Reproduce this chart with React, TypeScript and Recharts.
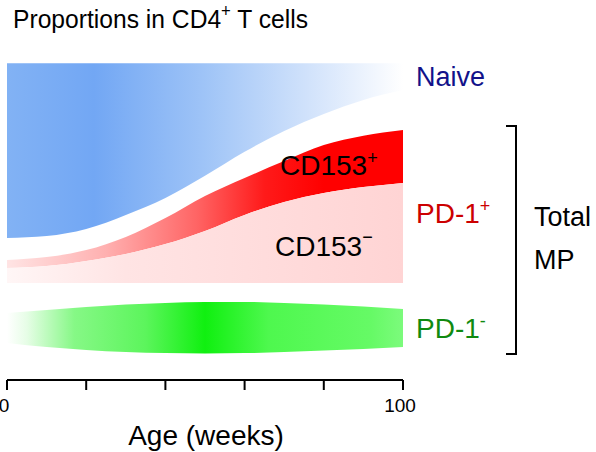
import { ComposedChart, Area, XAxis, YAxis } from 'recharts'

// x positions (weeks)
const weeks = [0, 10, 20, 30, 40, 50, 60, 70, 80, 90, 100]

// band edges (% of CD4+ T cells, stacked scale)
const naiveHigh = [99, 99, 99, 99, 99, 99, 99, 99, 99, 99, 99]
const naiveLow = [44.4, 45, 47.2, 51.6, 56.9, 63.8, 71.3, 77.8, 83.1, 87.5, 90.6]
const cd153PosHigh = [37.5, 38.4, 40.6, 44.7, 50.6, 57.5, 63.1, 68.4, 73.4, 76.3, 78.1]
const cd153NegHigh = [35, 35.6, 37.2, 39.4, 42.5, 46.6, 51.6, 55.6, 58.4, 60.3, 61.6]
const cd153NegLow = [30.3, 30.3, 30.3, 30.3, 30.3, 30.3, 30.3, 30.3, 30.3, 30.3, 30.3]
const pd1NegHigh = [20.9, 21.9, 22.8, 23.6, 24.1, 24.4, 24.4, 24.1, 23.6, 23.0, 22.2]
const pd1NegLow = [11.6, 10.3, 9.4, 8.75, 8.4, 8.3, 8.4, 8.75, 9.2, 9.7, 10.3]

const xTicks = [0, 20, 40, 60, 80, 100]
const labeledTicks = [0, 100]

const data = weeks.map((w, i) => ({
  week: w,
  naive: [naiveLow[i], naiveHigh[i]],
  cd153pos: [cd153NegHigh[i], cd153PosHigh[i]],
  cd153neg: [cd153NegLow[i], cd153NegHigh[i]],
  pd1neg: [pd1NegLow[i], pd1NegHigh[i]],
}))

const FONT = '"Liberation Sans", Arial, Helvetica, sans-serif'

const AgeTick = ({ x, y, payload }: { x: number; y: number; payload: { value: number } }) => {
  if (!labeledTicks.includes(payload.value)) return null
  return (
    <text x={x - 3} y={y} dy={20} textAnchor="middle" fill="#000" fontSize={19} fontFamily={FONT}>
      {payload.value}
    </text>
  )
}

export default function App() {
  return (
    <div style={{ position: 'absolute', left: 0, top: 0, width: 596, height: 452, background: '#fff' }}>
      <ComposedChart
        width={596}
        height={452}
        data={data}
        margin={{ top: 60, right: 193, left: 7, bottom: 32 }}
      >
        <defs>
          <linearGradient id="gNaive" x1="0" y1="0" x2="1" y2="0">
            <stop offset="0%" stopColor="#82b2f4" />
            <stop offset="22%" stopColor="#72a7f4" />
            <stop offset="50%" stopColor="#9fc4f7" />
            <stop offset="75%" stopColor="#cfe1fb" />
            <stop offset="100%" stopColor="#ffffff" />
          </linearGradient>
          <linearGradient id="gPos" x1="0" y1="0" x2="1" y2="0">
            <stop offset="0%" stopColor="#ffe4e4" />
            <stop offset="25%" stopColor="#ffb0b0" />
            <stop offset="48%" stopColor="#ff6464" />
            <stop offset="65%" stopColor="#ff1a1a" />
            <stop offset="80%" stopColor="#ff0000" />
            <stop offset="100%" stopColor="#ff0000" />
          </linearGradient>
          <linearGradient id="gNeg" x1="0" y1="0" x2="1" y2="0">
            <stop offset="0%" stopColor="#fff6f6" />
            <stop offset="30%" stopColor="#ffe4e4" />
            <stop offset="100%" stopColor="#ffd4d4" />
          </linearGradient>
          <linearGradient id="gPd1" x1="0" y1="0" x2="1" y2="0">
            <stop offset="0%" stopColor="#ffffff" />
            <stop offset="5%" stopColor="#e6fde6" />
            <stop offset="17%" stopColor="#86f886" />
            <stop offset="35%" stopColor="#5cf55c" />
            <stop offset="50%" stopColor="#10f010" />
            <stop offset="66%" stopColor="#4ef84e" />
            <stop offset="92%" stopColor="#66fa66" />
            <stop offset="100%" stopColor="#7cfb7c" />
          </linearGradient>
        </defs>
        <XAxis
          dataKey="week"
          type="number"
          domain={[0, 100]}
          ticks={xTicks}
          height={40}
          tickSize={10}
          axisLine={{ stroke: '#000', strokeWidth: 2 }}
          tickLine={{ stroke: '#000', strokeWidth: 2 }}
          tick={AgeTick}
          interval={0}
        />
        <YAxis hide domain={[0, 100]} />
        <Area type="monotone" dataKey="naive" stroke="none" fill="url(#gNaive)" fillOpacity={1} isAnimationActive={false} />
        <Area type="monotone" dataKey="cd153pos" stroke="none" fill="url(#gPos)" fillOpacity={1} isAnimationActive={false} />
        <Area type="monotone" dataKey="cd153neg" stroke="none" fill="url(#gNeg)" fillOpacity={1} isAnimationActive={false} />
        <Area type="monotone" dataKey="pd1neg" stroke="none" fill="url(#gPd1)" fillOpacity={1} isAnimationActive={false} />
      </ComposedChart>

      <svg width={596} height={452} style={{ position: 'absolute', left: 0, top: 0, pointerEvents: 'none' }} fontFamily={FONT}>
        <g transform="translate(13,28) scale(0.93,1)">
          <text x={0} y={0} fontSize={26.5} fill="#000">
            Proportions in CD4<tspan dy={-11} fontSize={18}>+</tspan>
            <tspan dy={11}> T cells</tspan>
          </text>
        </g>

        <text x={280} y={175} fontSize={28} fill="#000">
          CD153<tspan dy={-11} fontSize={18}>+</tspan>
        </text>
        <text x={275} y={256} fontSize={28} fill="#000">
          CD153<tspan dy={-13} fontSize={18}>−</tspan>
        </text>

        <text x={416} y={86} fontSize={27} fill="#12128a">Naive</text>
        <text x={416} y={223} fontSize={28} fill="#cc0000">
          PD-1<tspan dy={-11} fontSize={18}>+</tspan>
        </text>
        <text x={416} y={338} fontSize={28} fill="#108a10">
          PD-1<tspan dy={-11} fontSize={18}>-</tspan>
        </text>

        <path d="M506 126 H516 V354 H506" fill="none" stroke="#000" strokeWidth={2} />
        <text x={534} y={226} fontSize={27} fill="#000">Total</text>
        <text x={534} y={269} fontSize={27} fill="#000">MP</text>

        <text x={206} y={445} fontSize={28} fill="#000" textAnchor="middle">Age (weeks)</text>
      </svg>
    </div>
  )
}
